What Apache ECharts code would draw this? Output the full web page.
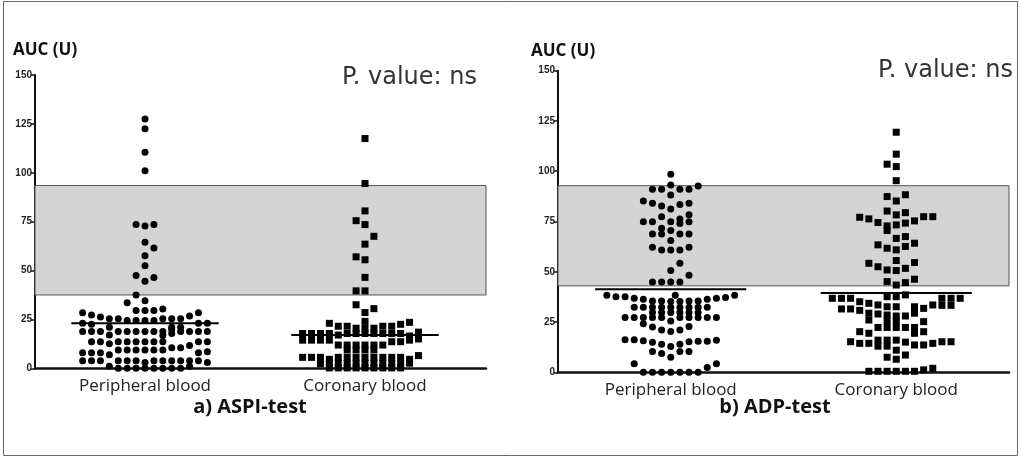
<!DOCTYPE html>
<html>
<head>
<meta charset="utf-8">
<script src="https://cdn.jsdelivr.net/npm/echarts@6/dist/echarts.min.js"></script>
<style>
  html, body { margin: 0; padding: 0; background: #fff; }
</style>
</head>
<body>
<div id="chart" style="width: 1021px; height: 459px;"></div>
<script>
// points are [column in the swarm, AUC value]
const categories = ['Peripheral blood', 'Coronary blood'];
const panelTitles = ['a) ASPI-test', 'b) ADP-test'];
const yTicks = [0, 25, 50, 75, 100, 125, 150];

// a) ASPI-test
const aspiPeripheral = [
  [0, 127.5], [0, 122.5], [0, 110.5], [0, 101], [-1, 73.5], [0, 72.8], [1, 73.5], [0, 64.5], [1, 61.5],
  [0, 57.5], [0, 52.5], [-1, 47.5], [1, 46.5], [0, 44.5], [-1, 37.5], [0, 34.5], [-2, 33.5],
  [-1, 29.5], [0, 29.5], [1, 29.5], [2, 30.3],
  [-7, 28.4], [-6, 27.3], [-5, 26.2], [-4, 25.4], [-3, 25.4], [-2, 24.4], [-1, 24.4], [0, 24.4],
  [1, 24.4], [2, 25.4], [3, 25.4], [4, 25.4], [5, 26.7], [6, 28.4],
  [-7, 23], [-6, 22.5], [-4, 21], [3, 21], [4, 21], [6, 23], [7, 23],
  [-7, 18.8], [-6, 18.8], [-5, 18.8], [-3, 18.8], [-2, 18.8], [-1, 18.8], [0, 18.8], [1, 18.8],
  [2, 18.8], [3, 19.8], [3, 17.8], [4, 18.8], [5, 18.8], [6, 18.8], [7, 18.8], [-4, 17], [2, 16.8],
  [-6, 13.6], [-5, 13.6], [-3, 13.6], [-2, 13.6], [-1, 13.6], [0, 13.6], [1, 13.6], [2, 13.6],
  [6, 13.6], [7, 13.6], [-4, 12.6], [5, 11.7],
  [-3, 9.4], [-2, 9.4], [-1, 9.4], [0, 9.4], [1, 9.4], [2, 9.4], [3, 10.5], [4, 10.5],
  [-7, 8], [-6, 8], [-5, 8], [6, 8], [7, 8.5], [-4, 6.9],
  [-7, 3.8], [-6, 3.8], [-5, 3.8], [-3, 3.8], [-2, 3.8], [-1, 3.8], [0, 3], [1, 3.8], [2, 3.8],
  [3, 3.8], [4, 3.8], [5, 3.8], [6, 3.8], [7, 3],
  [-4, 1], [-3, 0], [-2, 0], [-1, 0], [0, 0], [1, 0], [2, 0], [3, 0], [4, 0], [5, 1]
];
const aspiCoronary = [
  [0, 117.5], [0, 94.5], [0, 80.5], [-1, 75.5], [0, 73.5], [1, 67.5], [0, 63.5], [-1, 57], [0, 55.5],
  [0, 46.5], [-1, 39.6], [0, 39.6], [-1, 32.5], [1, 30.5], [0, 28.5], [0, 24],
  [-4, 23], [-3, 21.5], [-2, 21.5], [2, 21.5], [3, 21.5], [4, 22.5], [5, 23.5], [-1, 20.5], [0, 20.5], [1, 20.5],
  [-7, 17.8], [-6, 17.8], [-5, 17.8], [-4, 17.8], [-3, 17], [-2, 17.8], [-1, 17.8], [0, 17.8], [1, 17.8],
  [2, 17.8], [3, 17.8], [4, 17.8], [5, 16.5], [6, 18.5],
  [-7, 14.4], [-6, 14.4], [-5, 14.4], [-4, 14.4], [3, 13.6], [4, 13.6], [5, 14.4], [6, 15],
  [-3, 11.9], [-2, 11.9], [-1, 11.9], [0, 11.9], [1, 11.9], [2, 11.9],
  [-2, 9.4], [-1, 9.4], [0, 9.4], [1, 9.4],
  [-7, 5.6], [-6, 5.6], [-5, 5.6], [-4, 4.6], [-3, 5.6], [-2, 5.6], [-1, 5.6], [0, 5.6], [1, 5.6],
  [2, 5.6], [3, 5.6], [4, 5.6], [5, 4.6], [6, 6.5],
  [-5, 2.3], [-4, 2.6], [-3, 2.6], [-2, 2.6], [-1, 2.6], [0, 2.6], [1, 2.6], [2, 2.6], [3, 2.6], [4, 2.6], [5, 2.6],
  [-4, 0.2], [-3, 0.2], [-2, 0.2], [-1, 0.2], [0, 0.2], [1, 0.2], [2, 0.2], [3, 0.2], [4, 0.2]
];

// b) ADP-test
const adpPeripheral = [
  [0, 98.5], [0, 93.2], [3, 92.7], [-2, 91], [-1, 91], [1, 91], [2, 91], [0, 88.2],
  [-3, 85.2], [-2, 84.1], [2, 84.1], [-1, 82.7], [1, 83.4], [0, 81.2], [2, 78.3], [-1, 77.4], [1, 76.3],
  [-3, 74.9], [-2, 74.9], [0, 74.9], [2, 74.9], [1, 74], [-1, 71.6], [0, 70.5],
  [-2, 68.8], [-1, 68.8], [1, 68.8], [2, 68.8], [0, 65.5], [-2, 62.2], [2, 62.2], [-1, 60.8], [0, 60.8], [1, 60.8],
  [1, 54.2], [0, 50.6], [2, 48.3], [-2, 44.9], [-1, 44.9], [0, 44.9], [1, 44.9],
  [-7, 38.3], [-6, 37.6], [-5, 37.6], [-4, 36.8], [-3, 36.3], [-2, 35.5], [-1, 35.5], [0, 35.2], [1, 35.2],
  [2, 35.5], [3, 35.5], [4, 36.3], [5, 36.8], [6, 37.2], [7, 38.3], [0.5, 38.3],
  [-4, 32.3], [-3, 32.3], [-2, 32.3], [-1, 32.3], [0, 32.3], [1, 32.3], [2, 32.3], [3, 32.3], [4, 32.3],
  [-2, 29.8], [-1, 29.8], [0, 29.8], [1, 29.8], [2, 29.8], [3, 29.8],
  [-5, 27.2], [-4, 27.2], [-3, 27.2], [-2, 27.2], [-1, 27.2], [0, 25.5], [1, 27.2], [2, 27.2], [3, 27.2], [4, 27.2], [5, 27.2],
  [-3, 24.2], [-2, 22.5], [-1, 21], [0, 20.3], [1, 21], [2, 22.8],
  [-5, 16.2], [-4, 16.2], [-3, 15.7], [-2, 15], [-1, 14], [0, 12.8], [1, 14], [2, 15.2], [3, 15.5], [4, 15.5], [5, 16],
  [-2, 10.4], [-1, 9.4], [1, 10.4], [2, 10.4], [0, 7.5],
  [-4, 4.2], [5, 4.2], [4, 2.4],
  [-3, 0], [-2, 0], [-1, 0], [0, 0], [1, 0], [2, 0], [3, 0]
];
const adpCoronary = [
  [0, 119.4], [0, 108.5], [-1, 103.5], [0, 102.3], [0, 95.3], [-1, 87.4], [0, 85.2], [1, 88.3],
  [-1, 80.2], [0, 78.3], [1, 79.4], [-4, 77.1], [-3, 76.3], [-2, 74.5], [-1, 72.8], [-1, 70.5], [0, 73.3],
  [1, 74.2], [2, 75.3], [3, 77.4], [4, 77.4], [0, 66.6], [1, 67.5], [-2, 63.4], [-1, 61.7], [0, 60.9],
  [1, 62.6], [2, 64.2], [0, 55.6], [-3, 54.2], [-2, 52.5], [-1, 50.9], [0, 50.6], [1, 51.7], [2, 54.6],
  [-1, 45.1], [0, 43.4], [1, 44.6], [2, 46.3],
  [-7, 36.8], [-6, 36.8], [-5, 36.8], [-4, 35.1], [-3, 34.3], [-2, 33.5], [-1, 37.6], [0, 37.6], [1, 38.5],
  [5, 36.8], [6, 36.8], [7, 36.8],
  [-1, 32.6], [0, 32.6], [2, 32.6], [3, 31.8], [4, 33.5], [-6, 31.5], [-5, 31.5], [5, 33.3], [6, 33.3],
  [-4, 30.8], [-3, 29.4], [-2, 29], [-1, 28.5], [0, 28], [2, 29.4], [1, 28],
  [-3, 26], [-1, 25.5], [0, 25.5], [3, 25.2],
  [-2, 22.3], [-1, 22.3], [0, 22.3], [1, 22.3], [2, 22.3], [-4, 20.2], [-3, 19.4], [2, 19.4], [3, 20.2],
  [-5, 15.2], [-4, 14.4], [-3, 14.4], [-2, 16], [-2, 13], [-1, 16], [-1, 13], [0, 16], [1, 15],
  [2, 13.6], [3, 13.6], [4, 14.4], [5, 15.2], [6, 15.2],
  [0, 11], [-1, 7.5], [0, 6.5], [1, 8.6],
  [-3, 0.5], [-2, 0.5], [-1, 0.5], [0, 0.5], [1, 0.5], [2, 0.5], [3, 1.2], [4, 2]
];

const medians = [[23, 17], [41.3, 39.5]];        // [peripheral, coronary] per panel
const normalRange = [[37.5, 93.5], [43, 92.8]];  // shaded reference band per panel

const COL = 0.0405;   // one dot column, in category units
const HALF = 0.335;   // half width of the median bar

function place(points, center) {
  return points.map(p => [center + p[0] * COL, p[1]]);
}

const chart = echarts.init(document.getElementById('chart'));

const grids = [
  { left: 35, top: 75, width: 451, height: 293.3 },
  { left: 558, top: 70.7, width: 451, height: 301.6 }
];
const xMax = [2.55, 2.5];
const groups = [[aspiPeripheral, aspiCoronary], [adpPeripheral, adpCoronary]];

const xAxis = [], yAxis = [], series = [];
grids.forEach((g, i) => {
  xAxis.push({
    type: 'value', gridIndex: i, min: 0.5, max: xMax[i], interval: 0.5,
    axisLine: { lineStyle: { color: '#111', width: 2.5 } },
    axisTick: { show: false },
    splitLine: { show: false },
    axisLabel: {
      showMaxLabel: false,
      margin: 9,
      fontFamily: 'Open Sans', fontSize: 17, color: '#222',
      formatter: v => v === 1 ? categories[0] : v === 2 ? categories[1] : ''
    }
  });
  yAxis.push({
    type: 'value', gridIndex: i, min: 0, max: 150, interval: 25,
    axisLine: { show: true, lineStyle: { color: '#111', width: 2 } },
    axisTick: { show: true, length: 4, lineStyle: { color: '#111', width: 1.5 } },
    splitLine: { show: false },
    axisLabel: {
      margin: 3, fontFamily: 'Liberation Sans Narrow, Liberation Sans', fontWeight: 'bold', fontSize: 10, color: '#222',
      formatter: v => yTicks.includes(v) ? String(v) : ''
    }
  });
  // shaded band
  series.push({
    type: 'line', xAxisIndex: i, yAxisIndex: i, data: [], z: 1, silent: true,
    markArea: {
      silent: true,
      itemStyle: { color: '#d4d4d4', borderColor: '#555', borderWidth: 1 },
      data: [[{ yAxis: normalRange[i][0] }, { yAxis: normalRange[i][1] }]]
    }
  });
  groups[i].forEach((pts, k) => {
    const center = k + 1;
    series.push({
      type: 'scatter', xAxisIndex: i, yAxisIndex: i, z: 3,
      symbol: k === 0 ? 'circle' : 'rect',
      symbolSize: 7,
      itemStyle: { color: '#000', opacity: 1 },
      data: place(pts, center)
    });
    series.push({
      type: 'line', xAxisIndex: i, yAxisIndex: i, z: 4, symbol: 'none',
      lineStyle: { color: '#000', width: 2 },
      data: [[center - HALF, medians[i][k]], [center + HALF, medians[i][k]]]
    });
  });
});

const option = {
  animation: false,
  grid: grids,
  xAxis: xAxis,
  yAxis: yAxis,
  series: series,
  graphic: [
    { type: 'rect', shape: { x: 3.5, y: 1.5, width: 1014, height: 454 },
      style: { fill: 'none', stroke: '#666', lineWidth: 1 } },
    { type: 'text', left: 13, top: 42,
      style: { text: 'AUC (U)', font: 'bold 17px "Open Sans"', fill: '#111' } },
    { type: 'text', left: 531, top: 43,
      style: { text: 'AUC (U)', font: 'bold 17px "Open Sans"', fill: '#111' } },
    { type: 'text', right: 1021 - 477, top: 66,
      style: { text: 'P. value: ns', font: '24px "DejaVu Sans"', fill: '#333' } },
    { type: 'text', right: 1021 - 1013, top: 59,
      style: { text: 'P. value: ns', font: '24px "DejaVu Sans"', fill: '#333' } },
    { type: 'text', x: 250, y: 407,
      style: { text: panelTitles[0], font: 'bold 20px "Open Sans"', fill: '#111', align: 'center', verticalAlign: 'middle' } },
    { type: 'text', x: 775, y: 407,
      style: { text: panelTitles[1], font: 'bold 20px "Open Sans"', fill: '#111', align: 'center', verticalAlign: 'middle' } }
  ]
};
chart.setOption(option);
</script>
</body>
</html>
